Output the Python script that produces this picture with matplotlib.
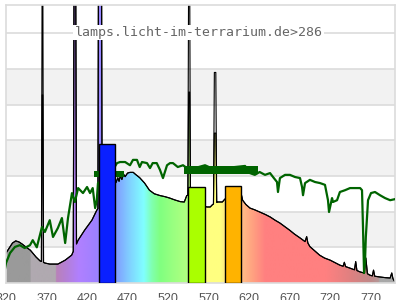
import numpy as np
import matplotlib
matplotlib.use("Agg")
import matplotlib.pyplot as plt
from matplotlib.colors import LinearSegmentedColormap
from matplotlib.patches import Polygon

# lamp spectrum (continuum, nm / relative value)
lamp_nm = [320, 324, 328, 332, 336, 340, 345, 350, 357, 362, 368, 374, 384, 393, 401, 409,
           417, 426, 432, 440, 446, 452, 456, 458, 459.5, 461, 463, 465, 467, 470, 473, 477,
           480, 485, 491, 497, 503, 510, 516, 522, 528, 535, 540, 543, 550, 555, 560, 565,
           568, 572, 575, 581, 587, 590, 600, 608, 610, 612, 616, 621, 627, 633, 640, 646,
           652, 658, 664, 670, 676, 683, 689, 691, 692.5, 695, 701, 707, 713, 720, 726, 732,
           736, 737.5, 739, 744, 750, 751.5, 753, 757, 762, 764, 766, 769, 772, 773.5, 775,
           781, 788, 794, 796, 797.5, 800]
lamp_val = [0.84, 0.98, 1.12, 1.18, 1.15, 1.09, 1.0, 0.92, 0.73, 0.62, 0.56, 0.53, 0.53, 0.64,
            0.78, 1.2, 1.48, 1.76, 2.04, 2.3, 2.5, 2.7, 2.83, 2.95, 2.85, 3.0, 2.9, 3.05, 2.98,
            3.08, 3.1, 3.1, 3.04, 2.95, 2.8, 2.6, 2.5, 2.45, 2.42, 2.38, 2.33, 2.28, 2.27,
            2.45, 2.5, 2.4, 2.3, 2.15, 2.13, 2.13, 2.2, 2.27, 2.27, 2.35, 2.45, 2.5, 2.52,
            2.32, 2.2, 2.1, 2.05, 1.99, 1.92, 1.85, 1.76, 1.68, 1.58, 1.48, 1.37, 1.26, 1.16,
            1.3, 1.12, 1.02, 0.9, 0.78, 0.7, 0.64, 0.57, 0.5, 0.47, 0.58, 0.46, 0.42, 0.37,
            0.6, 0.35, 0.31, 0.28, 0.7, 0.26, 0.22, 0.2, 0.36, 0.19, 0.17, 0.15, 0.14, 0.28,
            0.12, 0.03]

# mercury lines: centre, half width at base / top, height of coloured area and of black line
hg_nm = [365, 405, 436, 546, 578]
hg_w = [1.3, 2.0, 2.6, 1.6, 2.0]
hg_top = [0.4, 1.0, 1.9, 0.6, 0.9]
hg_fill = [5.27, 9.0, 9.0, 5.35, 4.2]
hg_line = [9.0, 9.0, 9.0, 9.0, 5.9]

# reference daylight curve
sun_nm = [318, 320, 325, 331, 337, 343, 349.6, 353, 358, 364.4, 368, 374, 378, 384, 389, 393,
          396.5, 401.4, 405, 409, 415, 420, 423.7, 427, 430, 432, 433.5, 440, 450, 457, 460.7,
          467, 469, 473, 476.7, 481.6, 485, 487.8, 494, 497.7, 501, 506, 510, 513.7, 518.7,
          522.4, 526, 532, 538.4, 543.3, 553, 565.6, 578, 590, 602.6, 615, 621, 627, 633,
          639.6, 645.8, 649.5, 654.4, 655.6, 658, 664.3, 670.4, 676.6, 682.8, 685.3, 686.5,
          689, 695, 701.3, 707.5, 713.6, 717.3, 718.6, 722.3, 723.5, 728.5, 732, 738.3,
          744.5, 750.7, 757, 759.3, 760.5, 761.8, 763, 764, 765.5, 766.7, 770.4, 775.3,
          781.5, 787.7, 794, 800]
sun_val = [0.3, 0.56, 0.84, 1.01, 1.06, 0.98, 1.06, 1.2, 1.0, 1.57, 1.43, 1.76, 1.29, 1.54,
           1.82, 1.12, 1.82, 2.52, 2.27, 2.66, 2.52, 2.69, 2.52, 2.66, 2.1, 2.32, 2.8, 2.9,
           3.1, 3.36, 3.39, 3.39, 3.36, 3.3, 3.45, 3.45, 3.25, 3.39, 3.36, 3.22, 3.36, 3.36,
           3.17, 2.94, 3.3, 3.36, 3.36, 3.25, 3.3, 3.22, 3.22, 3.3, 3.17, 3.22, 3.25, 3.28,
           3.08, 3.03, 3.11, 3.03, 3.08, 2.97, 2.83, 2.55, 2.94, 3.03, 3.03, 2.97, 2.94, 2.69,
           2.46, 2.8, 2.89, 2.83, 2.8, 2.75, 2.32, 1.99, 2.38, 2.27, 2.32, 2.55, 2.6, 2.66,
           2.66, 2.66, 2.6, 1.57, 0.28, 0.6, 1.29, 1.85, 2.32, 2.52, 2.55, 2.46, 2.38, 2.32,
           2.35]

# dense high resolution part of the daylight curve
dense_nm = [428, 466, 540, 631]
dense_lo = [2.97, 2.97, 3.06, 3.06]
dense_hi = [3.14, 3.14, 3.28, 3.28]

# LED bars
bar_nm = [445, 555, 600]
bar_val = [3.89, 2.70, 2.72]
bar_col = ['#0a20ff', '#aaff00', '#ffb300']

# colours under the spectrum
stop_nm = [320, 350, 350.2, 381.5, 381.7, 395, 410, 430, 455, 462, 475, 490, 500, 510, 525,
           543, 555, 566, 585, 592, 610, 625, 640, 715, 745, 770, 780.8, 781, 800]
stop_col = ['#9a9a9a', '#9a9a9a', '#b0a9b0', '#b0a9b0', '#b982b8', '#b47fd8', '#b080ff',
            '#9f80ff', '#8098ff', '#80b0ff', '#80d8ff', '#80ffff', '#80ffb0', '#80ff80',
            '#98ff80', '#b0ff80', '#d8ff80', '#ffff80', '#ffff80', '#ffe080', '#ffc088',
            '#ffa080', '#ff8080', '#ff8080', '#e08080', '#c08888', '#b49898', '#a8a8a8',
            '#a8a8a8']

ticks = [320, 370, 420, 470, 520, 570, 620, 670, 720, 770]
label = 'lamps.licht-im-terrarium.de>286'


def add_spikes(nm, val, centers, widths, tops, heights):
    x, y = list(nm), list(val)
    for c, w, t, h in zip(centers, widths, tops, heights):
        b0 = np.interp(c - w, x, y)
        b1 = np.interp(c + w, x, y)
        pts = [(a, b) for a, b in zip(x, y) if abs(a - c) > w]
        pts += [(c - w, b0), (c - t, h), (c + t, h), (c + w, b1)]
        pts.sort()
        x, y = [p[0] for p in pts], [p[1] for p in pts]
    return np.array(x), np.array(y)


fill_x, fill_y = add_spikes(lamp_nm, lamp_val, hg_nm, hg_w, hg_top, hg_fill)
line_x, line_y = add_spikes(lamp_nm, lamp_val, hg_nm, hg_w, hg_top, hg_line)

fig = plt.figure(figsize=(4, 3), dpi=100)
ax = fig.add_axes([6 / 400, 17 / 300, 389 / 400, 278 / 300])
ymax = 7.79

# background bands and grid
for lo in [1, 3, 5]:
    ax.axhspan(lo, lo + 1, color='#f2f2f2', zorder=0, lw=0)
for yy in range(1, 8):
    ax.axhline(yy, color='#dcdcdc', lw=1.2, zorder=0.5)

# coloured area under the lamp spectrum
pos = (np.array(stop_nm) - 320) / 480
cmap = LinearSegmentedColormap.from_list('spec', list(zip(pos, stop_col)), N=2048)
wl = np.linspace(320, 800, 1200)
im = ax.imshow(wl[None, :], cmap=cmap, vmin=320, vmax=800, extent=[320, 800, 0, 10],
               aspect='auto', origin='lower', interpolation='bilinear', zorder=1)
area = Polygon(np.column_stack([np.r_[fill_x[0], fill_x, fill_x[-1]],
                                np.r_[0, fill_y, 0]]),
               closed=True, facecolor='none', edgecolor='none', transform=ax.transData)
ax.add_patch(area)
im.set_clip_path(area)
ax.plot(fill_x, fill_y, color='black', lw=0.8, zorder=2)
ax.plot(line_x, line_y, color='black', lw=0.8, zorder=2)

# daylight curve
for i in range(0, len(dense_nm), 2):
    ax.fill_between(dense_nm[i:i + 2], dense_lo[i:i + 2], dense_hi[i:i + 2],
                    color='#006400', lw=0, zorder=3)
ax.plot(sun_nm, sun_val, color='#006400', lw=1.6, zorder=3)

# bars
ax.bar(bar_nm, bar_val, width=20, color=bar_col, edgecolor='black', lw=1, zorder=4)

ax.text(0.496, (283 - 36) / 278, label, transform=ax.transAxes, ha='center',
        va='baseline', family='DejaVu Sans Mono', fontsize=9.5, color='#666666',
        bbox=dict(facecolor='white', edgecolor='none', pad=1), zorder=5)

ax.set_xlim(320, 800)
ax.set_ylim(0, ymax)
ax.set_xticks(ticks)
ax.set_yticks([])
ax.tick_params(axis='x', length=0, pad=7, labelsize=9, labelcolor='#555555')
for lab in ax.get_xticklabels():
    lab.set_family('Liberation Sans')
for sp in ax.spines.values():
    sp.set_color('#dcdcdc')
    sp.set_linewidth(1.2)

fig.savefig('out.png', dpi=100)
